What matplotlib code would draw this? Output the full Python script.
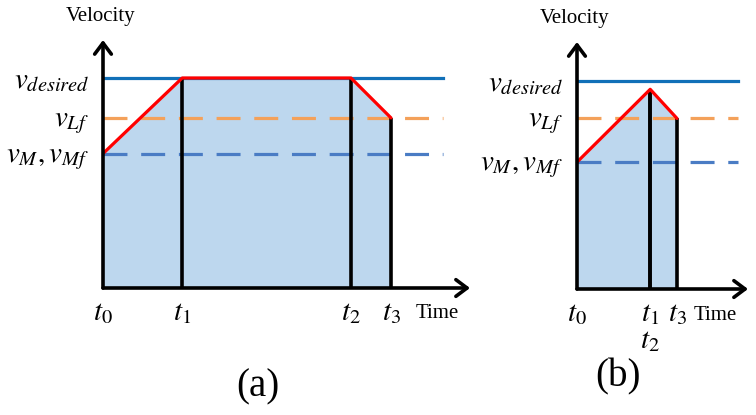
import matplotlib
matplotlib.use("Agg")
import matplotlib.pyplot as plt

plt.rcParams['font.family'] = ['Liberation Serif', 'DejaVu Serif']
plt.rcParams['mathtext.fontset'] = 'stix'

# panel (a): times t0..t3 and the red velocity profile at those times
a_times = [0, 1.98, 6.2, 7.2]
a_profile = [0.64, 1.0, 1.0, 0.81]
a_v_desired, a_v_lf, a_v_m = 1.0, 0.81, 0.64
a_line_end = 8.5

# panel (b): t1 == t2
b_times = [0, 1.83, 1.83, 2.5]
b_profile = [0.61, 0.96, 0.96, 0.82]
b_v_desired, b_v_lf, b_v_m = 1.0, 0.82, 0.61
b_line_end = 4.03

v_labels = [r'$v_M, v_{Mf}$', r'$v_{Lf}$', r'$v_{desired}$']

fill_col = '#bdd7ee'
solid_blue = '#1170b8'
dash_orange = '#f4a15a'
dash_blue = '#4a7cc4'
lw = 2.3
dash = (0, (7.5, 4.3))
math_size = 21

fig = plt.figure(figsize=(7.56, 4.15), dpi=100)
ax_a = fig.add_axes([103/756, 127/415, 367/756, 248/415])
ax_b = fig.add_axes([577/756, 126/415, 171/756, 247/415])


def draw_panel(ax, times, profile, vd, vlf, vm, line_end, xmax, ymax, tick_times, tlabels):
    ax.set_xlim(0, xmax)
    ax.set_ylim(0, ymax)
    for s in ax.spines.values():
        s.set_visible(False)
    ax.patch.set_alpha(0)

    ax.fill_between(times, profile, 0, color=fill_col, lw=0, zorder=1)
    ax.plot([0, line_end], [vm, vm], color=dash_blue, lw=lw, ls=dash, zorder=2)
    ax.plot([0, line_end], [vlf, vlf], color=dash_orange, lw=lw, ls=dash, zorder=2)
    ax.plot([0, line_end], [vd, vd], color=solid_blue, lw=lw, zorder=2)
    for t, v in zip(times[1:], profile[1:]):
        ax.plot([t, t], [0, v], color='black', lw=2.6, zorder=3, solid_capstyle='butt')
    ax.plot(times, profile, color='red', lw=lw, zorder=4, solid_capstyle='round')

    # axes arrows
    arrow = dict(arrowstyle='->,head_length=0.4,head_width=0.3', lw=2.6, color='black',
                 shrinkA=0, shrinkB=0, mutation_scale=20)
    ax.annotate('', xy=(1, 0), xytext=(0, 0), xycoords='axes fraction', arrowprops=arrow, zorder=5)
    ax.annotate('', xy=(0, 1), xytext=(0, 0), xycoords='axes fraction', arrowprops=arrow, zorder=5)

    ax.set_yticks([vm, vlf, vd])
    ax.set_yticklabels(v_labels, fontsize=math_size)
    ax.set_xticks(tick_times)
    ax.set_xticklabels(tlabels, fontsize=math_size)
    ax.tick_params(axis='y', length=0, pad=10)
    ax.tick_params(axis='x', length=0, pad=9)


draw_panel(ax_a, a_times, a_profile, a_v_desired, a_v_lf, a_v_m, a_line_end,
           367/40, 248/210, a_times, [r'$t_0$', r'$t_1$', r'$t_2$', r'$t_3$'])
draw_panel(ax_b, b_times, b_profile, b_v_desired, b_v_lf, b_v_m, b_line_end,
           171/40, 247/208, [b_times[0], b_times[1], b_times[3]], [r'$t_0$', r'$t_1$', r'$t_3$'])

ax_b.text(b_times[2], -0.25, r'$t_2$', fontsize=math_size, ha='center', va='center')

ax_a.text(8.35, -0.12, 'Time', fontsize=15, ha='center', va='center')
ax_b.text(3.45, -0.125, 'Time', fontsize=15, ha='center', va='center')
fig.text(101/756, 1 - 17/415, 'Velocity', fontsize=15, ha='center', va='center')
fig.text(575/756, 1 - 18/415, 'Velocity', fontsize=15, ha='center', va='center')

fig.text(258/756, 1 - 387/415, '(a)', fontsize=28, ha='center', va='center')
fig.text(618/756, 1 - 377/415, '(b)', fontsize=28, ha='center', va='center')

fig.savefig('out.png', dpi=100)
